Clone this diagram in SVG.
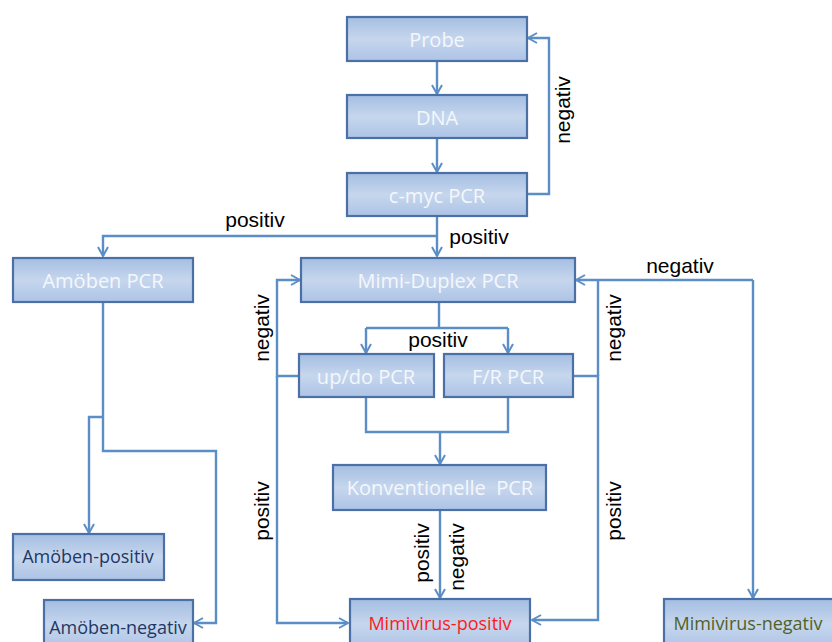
<svg xmlns="http://www.w3.org/2000/svg" width="832" height="642" viewBox="0 0 832 642">
<defs>
<linearGradient id="g" x1="0" y1="0" x2="0" y2="1">
<stop offset="0" stop-color="#a4bee2"/>
<stop offset="0.5" stop-color="#c6d6ed"/>
<stop offset="1" stop-color="#adc4e6"/>
</linearGradient>
<marker id="a" viewBox="0 0 12 12" refX="11" refY="6" markerWidth="12" markerHeight="12" markerUnits="userSpaceOnUse" orient="auto">
<path d="M2,1 L11,6 L2,11" fill="none" stroke="#5b8ec6" stroke-width="2"/>
</marker>
<style>
.box{fill:url(#g);stroke:#4a70a6;stroke-width:2.2}
.t{font-family:"Open Sans","Liberation Sans",sans-serif;font-size:20px;text-anchor:middle;fill:#f4f7fc}
.s{font-size:18px}
.c{fill:none;stroke:#5b8ec6;stroke-width:2.4}
.l{font-family:"Liberation Sans",Arial,sans-serif;font-size:21px;fill:#000;text-anchor:middle}
</style>
</defs>
<rect width="832" height="642" fill="#fff"/>
<g id="connectors">
<path class="c" d="M437,61 V94" marker-end="url(#a)"/>
<path class="c" d="M437,138 V172" marker-end="url(#a)"/>
<path class="c" d="M527,194 H549 V38 H528" marker-end="url(#a)"/>
<path class="c" d="M437,216 V256" marker-end="url(#a)"/>
<path class="c" d="M437,236 H103 V256" marker-end="url(#a)"/>
<path class="c" d="M103,302 V451 H216 V623 H194" marker-end="url(#a)"/>
<path class="c" d="M103,417 H89 V533" marker-end="url(#a)"/>
<path class="c" d="M439,302 V328"/>
<path class="c" d="M366,328 H508"/>
<path class="c" d="M366,328 V353" marker-end="url(#a)"/>
<path class="c" d="M508,328 V353" marker-end="url(#a)"/>
<path class="c" d="M366,397 V432 H508 V397"/>
<path class="c" d="M440,432 V464" marker-end="url(#a)"/>
<path class="c" d="M440,510 V598" marker-end="url(#a)"/>
<path class="c" d="M299,376 H277 V280 H300" marker-end="url(#a)"/>
<path class="c" d="M277,376 V623 H348" marker-end="url(#a)"/>
<path class="c" d="M573,376 H598 V620 H532" marker-end="url(#a)"/>
<path class="c" d="M598,376 V280"/>
<path class="c" d="M753,280 H576" marker-end="url(#a)"/>
<path class="c" d="M753,280 V598" marker-end="url(#a)"/>
</g>
<g id="labels">
<text class="l" transform="translate(570,110) rotate(-90)">negativ</text>
<text class="l" x="255" y="227">positiv</text>
<text class="l" x="479" y="244">positiv</text>
<text class="l" x="438" y="347">positiv</text>
<text class="l" x="680" y="273">negativ</text>
<text class="l" transform="translate(269,328) rotate(-90)">negativ</text>
<text class="l" transform="translate(621,328) rotate(-90)">negativ</text>
<text class="l" transform="translate(269,511) rotate(-90)">positiv</text>
<text class="l" transform="translate(621,511) rotate(-90)">positiv</text>
<text class="l" transform="translate(429,553) rotate(-90)">positiv</text>
<text class="l" transform="translate(464,557) rotate(-90)">negativ</text>
</g>
<g id="probe"><rect class="box" x="347" y="17" width="180" height="44"/><text class="t" x="437" y="47">Probe</text></g>
<g id="dna"><rect class="box" x="347" y="95" width="180" height="43"/><text class="t" x="437" y="125">DNA</text></g>
<g id="cmyc"><rect class="box" x="347" y="173" width="180" height="43"/><text class="t" x="437" y="203">c-myc PCR</text></g>
<g id="amoeben-pcr"><rect class="box" x="13" y="258" width="180" height="44"/><text class="t" x="103" y="288">Amöben PCR</text></g>
<g id="mimi-duplex"><rect class="box" x="301" y="258" width="274" height="44"/><text class="t" x="438" y="288">Mimi-Duplex PCR</text></g>
<g id="updo"><rect class="box" x="299" y="354" width="135" height="43"/><text class="t" x="366" y="384">up/do PCR</text></g>
<g id="fr"><rect class="box" x="444" y="354" width="129" height="43"/><text class="t" x="508" y="384">F/R PCR</text></g>
<g id="konv"><rect class="box" x="333" y="465" width="213" height="45"/><text class="t" x="440" y="495" xml:space="preserve">Konventionelle  PCR</text></g>
<g id="amoeben-pos"><rect class="box" x="13" y="534" width="151" height="46"/><text class="t s" x="88" y="563" style="fill:#1f3864">Amöben-positiv</text></g>
<g id="amoeben-neg"><rect class="box" x="44" y="600" width="149" height="50"/><text class="t s" x="118" y="634" style="fill:#1f3864">Amöben-negativ</text></g>
<g id="mimi-pos"><rect class="box" x="350" y="599" width="180" height="50"/><text class="t s" x="440" y="630" style="fill:#ff1a1a">Mimivirus-positiv</text></g>
<g id="mimi-neg"><rect class="box" x="664" y="599" width="180" height="50"/><text class="t s" x="748" y="630" style="fill:#4f6228">Mimivirus-negativ</text></g>
</svg>
